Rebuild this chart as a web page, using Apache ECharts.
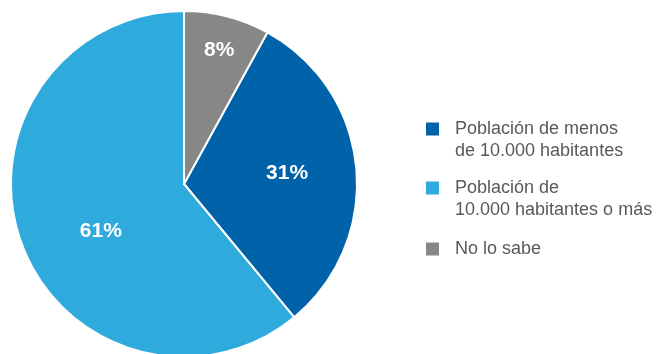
<!DOCTYPE html>
<html>
<head>
<meta charset="utf-8">
<script src="https://cdn.jsdelivr.net/npm/echarts@6/dist/echarts.min.js"></script>
<style>
  html, body { margin: 0; padding: 0; background: #ffffff; }
  #chart { width: 657px; height: 354px; }
</style>
</head>
<body>
<div id="chart"></div>
<script>
// Survey answers, share of respondents (%)
const categories = [
  'Población de menos\nde 10.000 habitantes',
  'Población de\n10.000 habitantes o más',
  'No lo sabe'
];
const shares = [31, 61, 8];
const colors = ['#0063a9', '#2eaadd', '#878787'];

// Nudges for the percentage labels inside each slice
const labelShift = [[14, -2], [1, 17], [13, -47]];
// Vertical placement of each legend entry
const legendTops = [96, 155, 238];

const total = shares.reduce((a, b) => a + b, 0);

const chart = echarts.init(document.getElementById('chart'), null, { renderer: 'canvas' });

// One legend per entry so the swatch sits beside the first text line
const legends = categories.map((name, i) => {
  const lines = name.split('\n').length;
  return {
    data: [name],
    orient: 'vertical',
    left: 426,
    top: legendTops[i],
    padding: 0,
    icon: 'rect',
    itemWidth: 13,
    itemHeight: 13,
    itemStyle: { borderWidth: 0 },
    selectedMode: false,
    formatter: function (n) {
      // a leading blank line keeps the swatch level with the first line
      return lines > 1 ? '\n' + n : n;
    },
    textStyle: {
      fontFamily: 'Liberation Sans, Arial, sans-serif',
      fontSize: 18,
      color: '#595959',
      lineHeight: 22,
      padding: [0, 0, 0, 11]
    }
  };
});

chart.setOption({
  animation: false,
  color: colors,
  legend: legends,
  series: [{
    type: 'pie',
    center: [184, 184],
    radius: [0, 173],
    // the last slice ("No lo sabe") ends at twelve o'clock
    startAngle: 90 - (shares[2] / total) * 360,
    clockwise: true,
    avoidLabelOverlap: false,
    emphasis: { disabled: true },
    itemStyle: { borderColor: '#ffffff', borderWidth: 2 },
    label: {
      show: true,
      position: 'inside',
      formatter: '{c}%',
      color: '#ffffff',
      fontFamily: 'Liberation Sans, Arial, sans-serif',
      fontWeight: 'bold',
      fontSize: 21
    },
    labelLine: { show: false },
    labelLayout: function (params) {
      const s = labelShift[params.dataIndex];
      return { dx: s[0], dy: s[1] };
    },
    data: categories.map((name, i) => ({ name: name, value: shares[i] }))
  }]
});
</script>
</body>
</html>
